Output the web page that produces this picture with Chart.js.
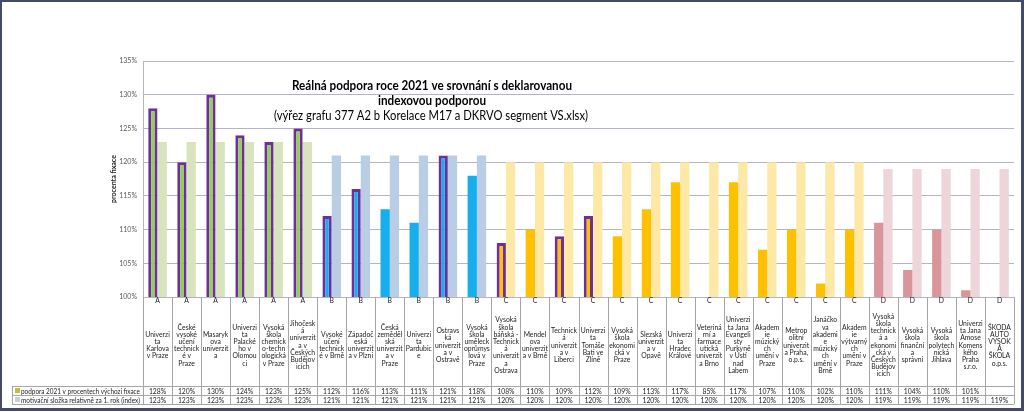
<!DOCTYPE html>
<html>
<head>
<meta charset="utf-8">
<script src="https://cdn.jsdelivr.net/npm/chart.js"></script>
<style>
    html, body { margin: 0; padding: 0; background: #fff; }
</style>
</head>
<body>
<canvas id="budgetChart" width="1024" height="412"></canvas>
<script>
// data
const segmenty = ['A','A','A','A','A','A','B','B','B','B','B','B','C','C','C','C','C','C','C','C','C','C','C','C','C','D','D','D','D','D'];
const skoly = [
    'Univerzita Karlova v Praze',
    'České vysoké učení technické v Praze',
    'Masarykova univerzita',
    'Univerzita Palackého v Olomouci',
    'Vysoká škola chemicko-technologická v Praze',
    'Jihočeská univerzita v Českých Budějovicích',
    'Vysoké učení technické v Brně',
    'Západočeská univerzita v Plzni',
    'Česká zemědělská univerzita v Praze',
    'Univerzita Pardubice',
    'Ostravská univerzita v Ostravě',
    'Vysoká škola uměleckoprůmyslová v Praze',
    'Vysoká škola báňská - Technická univerzita Ostrava',
    'Mendelova univerzita v Brně',
    'Technická univerzita v Liberci',
    'Univerzita Tomáše Bati ve Zlíně',
    'Vysoká škola ekonomická v Praze',
    'Slezská univerzita v Opavě',
    'Univerzita Hradec Králové',
    'Veterinární a farmaceutická univerzita Brno',
    'Univerzita Jana Evangelisty Purkyně v Ústí nad Labem',
    'Akademie múzických umění v Praze',
    'Metropolitní univerzita Praha, o.p.s.',
    'Janáčkova akademie múzických umění v Brně',
    'Akademie výtvarných umění v Praze',
    'Vysoká škola technická a ekonomická v Českých Budějovicích',
    'Vysoká škola finanční a správní',
    'Vysoká škola polytechnická Jihlava',
    'Univerzita Jana Amose Komenského Praha s.r.o.',
    'ŠKODA AUTO VYSOKÁ ŠKOLA o.p.s.'
];
const podpora = [128,120,130,124,123,125,112,116,113,111,121,118,108,110,109,112,109,113,117,85,117,107,110,102,110,111,104,110,101,null];
const motivace = [123,123,123,123,123,123,121,121,121,121,121,121,120,120,120,120,120,120,120,120,120,120,120,120,120,119,119,119,119,119];
const zvyraznene = [1,1,1,1,1,1,1,1,0,0,1,0,1,0,1,1,0,0,0,0,0,0,0,0,0,0,0,0,0,0];
const nazvyRad = ['podpora 2021 v procentech výchozí fixace', 'motivační složka relativně za 1. rok (index)'];
const osaY = [100, 135, 5];

const barvy = {A: '#92D050', B: '#17AEEE', C: '#FFC000', D: '#D9959A'};
const barvySvetle = {A: '#D7E4BD', B: '#B9CDE5', C: '#FDE8A6', D: '#EDD5D9'};
const FONT = 'Lato, "Open Sans", sans-serif';

function zalom(ctx, text, maxW) {
    const lines = [];
    let cur = '';
    text.split(' ').forEach(word => {
        const test = cur ? cur + ' ' + word : word;
        if (ctx.measureText(test).width <= maxW) { cur = test; return; }
        if (cur) { lines.push(cur); cur = ''; }
        let kus = '';
        for (const ch of word) {
            if (kus && ctx.measureText(kus + ch).width > maxW) { lines.push(kus); kus = ch; }
            else kus += ch;
        }
        cur = kus;
    });
    if (cur) lines.push(cur);
    return lines;
}

// titulek uvnitr grafu
const titulekPlugin = {
    id: 'titulek',
    afterDraw(chart) {
        const ctx = chart.ctx;
        ctx.save();
        ctx.fillStyle = '#000';
        ctx.textAlign = 'center';
        ctx.textBaseline = 'middle';
        ctx.font = 'bold 12.5px ' + FONT;
        ctx.fillText('Reálná podpora roce 2021 ve srovnání s deklarovanou', 432, 86, 280);
        ctx.fillText('indexovou podporou', 432, 101, 108);
        ctx.font = '13px ' + FONT;
        ctx.fillText('(výřez grafu 377 A2 b Korelace M17 a DKRVO segment VS.xlsx)', 431, 116, 314);
        ctx.restore();
    }
};

// tabulka dat pod grafem
const tabulkaPlugin = {
    id: 'tabulka',
    afterDraw(chart) {
        const ctx = chart.ctx;
        const x = chart.scales.x;
        const area = chart.chartArea;
        const w = (area.right - area.left) / skoly.length;
        const top = area.bottom, r1 = 386, r2 = 395, bot = 404, leftT = 12;
        ctx.save();
        ctx.strokeStyle = '#A6A6A6';
        ctx.lineWidth = 1;
        ctx.beginPath();
        for (let i = 0; i <= skoly.length; i++) {
            const px = Math.round(area.left + i * w) + 0.5;
            ctx.moveTo(px, top); ctx.lineTo(px, bot);
        }
        [r1, r2, bot].forEach(y => { ctx.moveTo(leftT, y + 0.5); ctx.lineTo(area.right, y + 0.5); });
        ctx.moveTo(leftT + 0.5, r1); ctx.lineTo(leftT + 0.5, bot);
        ctx.stroke();

        ctx.fillStyle = '#222';
        ctx.textAlign = 'center';
        ctx.textBaseline = 'middle';
        ctx.font = '6.8px ' + FONT;
        skoly.forEach((nazev, i) => {
            const cx = x.getPixelForValue(i);
            ctx.fillText(segmenty[i], cx, 301);
            const lines = zalom(ctx, nazev, w - 3);
            const lh = 7.2;
            const y0 = 345.5 - (lines.length - 1) * lh / 2;
            lines.forEach((l, k) => ctx.fillText(l, cx, y0 + k * lh));
            if (podpora[i] !== null) ctx.fillText(podpora[i] + '%', cx, (r1 + r2) / 2 + 1);
            ctx.fillText(motivace[i] + '%', cx, (r2 + bot) / 2 + 1);
        });

        // legenda v tabulce
        ctx.textAlign = 'left';
        ctx.fillStyle = '#C8BE3A';
        ctx.fillRect(15, 388, 5, 5);
        ctx.fillStyle = '#C5CEDA';
        ctx.fillRect(15, 397, 5, 5);
        ctx.fillStyle = '#222';
        ctx.fillText(nazvyRad[0], 21, (r1 + r2) / 2 + 1, area.left - 24);
        ctx.fillText(nazvyRad[1], 21, (r2 + bot) / 2 + 1, area.left - 24);

        // ramecek
        ctx.strokeStyle = '#434B69';
        ctx.lineWidth = 3;
        ctx.strokeRect(0.5, 0.5, 1022, 409);
        ctx.restore();
    }
};

const data = {
    labels: skoly,
    datasets: [{
        label: nazvyRad[0],
        data: podpora,
        backgroundColor: segmenty.map(s => barvy[s]),
        borderColor: '#6E2E9C',
        borderWidth: zvyraznene.map(z => z ? 3 : 0),
        borderSkipped: false
    }, {
        label: nazvyRad[1],
        data: motivace,
        backgroundColor: segmenty.map(s => barvySvetle[s]),
        borderWidth: 0
    }]
};

const config = {
    type: 'bar',
    data: data,
    options: {
        responsive: false,
        animation: false,
        categoryPercentage: 0.64,
        barPercentage: 1.0,
        layout: { padding: { top: 61, bottom: 115, left: 110, right: 10 } },
        plugins: { legend: { display: false }, tooltip: { enabled: false } },
        scales: {
            x: {
                display: false
            },
            y: {
                min: osaY[0],
                max: osaY[1],
                afterFit: axis => { axis.width = 33; },
                ticks: {
                    stepSize: osaY[2],
                    padding: 6,
                    color: '#595959',
                    font: { size: 7, family: FONT },
                    callback: v => v + '%'
                },
                grid: { color: '#B4B4C2', drawTicks: false },
                border: { color: '#B4B4C2' },
                title: {
                    display: true,
                    text: 'procenta fixace',
                    color: '#222',
                    padding: 0,
                    font: { size: 7, weight: 'bold', family: FONT }
                }
            }
        }
    },
    plugins: [titulekPlugin, tabulkaPlugin]
};

const budgetChart = new Chart(document.getElementById('budgetChart'), config);
</script>
</body>
</html>
